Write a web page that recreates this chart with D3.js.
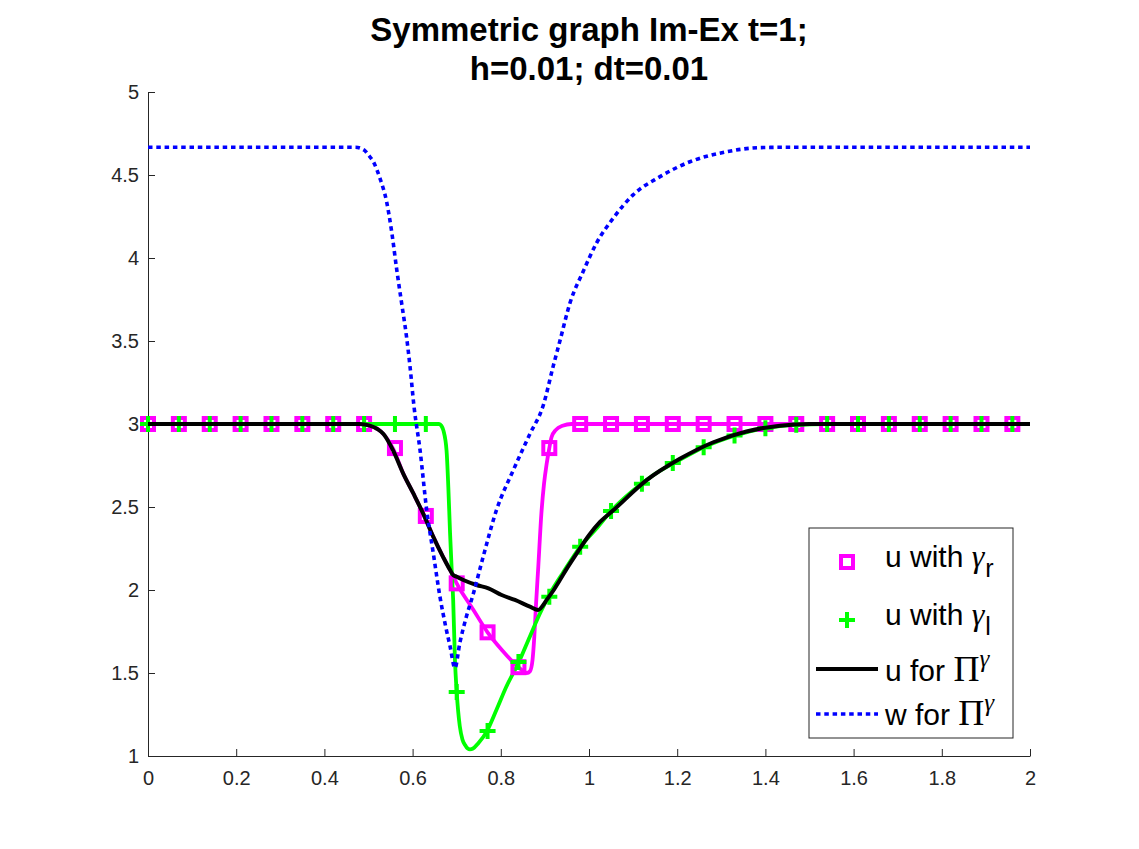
<!DOCTYPE html>
<html>
<head>
<meta charset="utf-8">
<script src="https://cdn.jsdelivr.net/npm/d3@7"></script>
<style>
  body { margin: 0; background: #fff; }
  svg { display: block; }
</style>
</head>
<body>
<div id="chart"></div>
<script>
// u with gamma_r (magenta line)
const urX = [0, 0.49, 0.50, 0.53, 0.556, 0.579, 0.602, 0.624, 0.647, 0.669, 0.689, 0.70, 0.738, 0.77, 0.802, 0.84, 0.859, 0.866, 0.872, 0.876, 0.880, 0.885, 0.892, 0.898, 0.904, 0.91, 0.915, 0.925, 0.94, 0.96, 2.0];
const urY = [3, 3, 2.995, 2.95, 2.85, 2.70, 2.58, 2.46, 2.32, 2.20, 2.10, 2.04, 1.88, 1.745, 1.64, 1.535, 1.50, 1.51, 1.58, 1.72, 1.92, 2.14, 2.46, 2.64, 2.76, 2.855, 2.92, 2.965, 2.99, 3.0, 3.0];

// u with gamma_l (green line)
const ulX = [0, 0.66, 0.665, 0.67, 0.677, 0.681, 0.685, 0.689, 0.692, 0.696, 0.70, 0.707, 0.713, 0.719, 0.725, 0.730, 0.737, 0.749, 0.768, 0.790, 0.813, 0.84, 0.866, 0.889, 0.912, 0.94, 0.98, 1.02, 1.05, 1.10, 1.15, 1.2, 1.26, 1.33, 1.4, 1.47, 1.54, 2.0];
const ulY = [3, 3, 2.99, 2.96, 2.84, 2.62, 2.34, 2.10, 1.94, 1.58, 1.385, 1.18, 1.10, 1.066, 1.045, 1.04, 1.045, 1.077, 1.147, 1.277, 1.42, 1.56, 1.72, 1.86, 1.98, 2.10, 2.26, 2.38, 2.476, 2.60, 2.70, 2.775, 2.86, 2.93, 2.975, 2.995, 3.0, 3.0];

// u for Pi^gamma (black line)
const upX = [0, 0.48, 0.503, 0.52, 0.534, 0.556, 0.579, 0.602, 0.624, 0.647, 0.669, 0.685, 0.692, 0.70, 0.715, 0.745, 0.772, 0.802, 0.832, 0.866, 0.885, 0.895, 0.904, 0.92, 0.934, 0.95, 0.972, 1.0, 1.025, 1.055, 1.13, 1.206, 1.282, 1.357, 1.433, 1.5, 2.0];
const upY = [3, 3, 2.99, 2.97, 2.94, 2.84, 2.70, 2.58, 2.46, 2.32, 2.20, 2.12, 2.09, 2.08, 2.06, 2.03, 2.01, 1.97, 1.94, 1.90, 1.88, 1.905, 1.94, 2.0, 2.06, 2.13, 2.22, 2.33, 2.41, 2.48, 2.66, 2.79, 2.89, 2.955, 2.99, 3.0, 3.0];

// w for Pi^gamma (blue dotted)
const wpX = [0, 0.47, 0.49, 0.50, 0.511, 0.526, 0.541, 0.553, 0.564, 0.575, 0.586, 0.594, 0.603, 0.617, 0.632, 0.647, 0.662, 0.675, 0.685, 0.696, 0.707, 0.722, 0.738, 0.76, 0.79, 0.828, 0.866, 0.896, 0.919, 0.934, 0.957, 0.987, 1.017, 1.055, 1.10, 1.161, 1.229, 1.312, 1.388, 1.45, 2.0];
const wpY = [4.667, 4.667, 4.65, 4.62, 4.58, 4.48, 4.34, 4.15, 3.93, 3.73, 3.53, 3.35, 3.11, 2.84, 2.48, 2.22, 1.96, 1.78, 1.66, 1.53, 1.68, 1.84, 1.98, 2.20, 2.48, 2.72, 2.94, 3.11, 3.35, 3.50, 3.73, 3.92, 4.09, 4.24, 4.38, 4.49, 4.58, 4.64, 4.665, 4.667, 4.667];

// marker positions and values
const markX = [0, 0.07, 0.14, 0.21, 0.28, 0.35, 0.42, 0.49, 0.56, 0.63, 0.70, 0.77, 0.84, 0.91, 0.98, 1.05, 1.12, 1.19, 1.26, 1.33, 1.40, 1.47, 1.54, 1.61, 1.68, 1.75, 1.82, 1.89, 1.96];
const urMark = [3, 3, 3, 3, 3, 3, 3, 3, 2.855, 2.446, 2.04, 1.745, 1.535, 2.855, 3, 3, 3, 3, 3, 3, 3, 3, 3, 3, 3, 3, 3, 3, 3];
const ulMark = [3, 3, 3, 3, 3, 3, 3, 3, 3, 3, 1.385, 1.15, 1.566, 1.96, 2.26, 2.476, 2.64, 2.765, 2.86, 2.93, 2.975, 2.995, 3, 3, 3, 3, 3, 3, 3];

const xTicks = [0, 0.2, 0.4, 0.6, 0.8, 1, 1.2, 1.4, 1.6, 1.8, 2];
const xTickLabels = ["0", "0.2", "0.4", "0.6", "0.8", "1", "1.2", "1.4", "1.6", "1.8", "2"];
const yTicks = [1, 1.5, 2, 2.5, 3, 3.5, 4, 4.5, 5];
const yTickLabels = ["1", "1.5", "2", "2.5", "3", "3.5", "4", "4.5", "5"];

const W = 1139, H = 849;
const axisColor = "#262626";
const sans = "'Liberation Sans', Arial, sans-serif";
const serif = "'Liberation Serif', 'Times New Roman', serif";

const svg = d3.select("#chart").append("svg")
    .attr("width", W)
    .attr("height", H);

svg.append("rect").attr("width", W).attr("height", H).attr("fill", "#fff");

const x = d3.scaleLinear().domain([0, 2]).range([148, 1030]);
const y = d3.scaleLinear().domain([1, 5]).range([756, 92]);

// axes (box off, ticks pointing in)
const xAxis = svg.append("g")
    .attr("transform", `translate(0,${y(1)})`)
    .call(d3.axisBottom(x)
        .tickValues(xTicks)
        .tickFormat((d, i) => xTickLabels[i])
        .tickSizeInner(-7)
        .tickSizeOuter(0)
        .tickPadding(15));
const yAxis = svg.append("g")
    .attr("transform", `translate(${x(0)},0)`)
    .call(d3.axisLeft(y)
        .tickValues(yTicks)
        .tickFormat((d, i) => yTickLabels[i])
        .tickSizeInner(-7)
        .tickSizeOuter(0)
        .tickPadding(9));

[xAxis, yAxis].forEach(g => {
    g.select(".domain").attr("stroke", axisColor).attr("stroke-width", 1);
    g.selectAll(".tick line").attr("stroke", axisColor).attr("stroke-width", 1);
    g.selectAll(".tick text")
        .attr("fill", axisColor)
        .style("font-family", sans)
        .style("font-size", "20px");
});

const zip = (xs, ys) => xs.map((v, i) => [v, ys[i]]);
const line = d3.line()
    .x(d => x(d[0]))
    .y(d => y(d[1]))
    .curve(d3.curveMonotoneX);

const plot = svg.append("g");

// magenta and green lines
plot.append("path")
    .datum(zip(urX, urY))
    .attr("d", line)
    .attr("fill", "none")
    .attr("stroke", "#ff00ff")
    .attr("stroke-width", 3.8);

plot.append("path")
    .datum(zip(ulX, ulY))
    .attr("d", line)
    .attr("fill", "none")
    .attr("stroke", "#00ff00")
    .attr("stroke-width", 3.8);

// markers
const sq = 12;
plot.selectAll(".sq")
    .data(zip(markX, urMark))
    .enter()
    .append("rect")
    .attr("class", "sq")
    .attr("x", d => x(d[0]) - sq / 2)
    .attr("y", d => y(d[1]) - sq / 2)
    .attr("width", sq)
    .attr("height", sq)
    .attr("fill", "none")
    .attr("stroke", "#ff00ff")
    .attr("stroke-width", 4);

const plus = "M-8,0H8M0,-8V8";
plot.selectAll(".pl")
    .data(zip(markX, ulMark))
    .enter()
    .append("path")
    .attr("class", "pl")
    .attr("d", plus)
    .attr("transform", d => `translate(${x(d[0])},${y(d[1])})`)
    .attr("fill", "none")
    .attr("stroke", "#00ff00")
    .attr("stroke-width", 4);

// black and blue dotted
plot.append("path")
    .datum(zip(upX, upY))
    .attr("d", line)
    .attr("fill", "none")
    .attr("stroke", "#000")
    .attr("stroke-width", 4);

plot.append("path")
    .datum(zip(wpX, wpY))
    .attr("d", line)
    .attr("fill", "none")
    .attr("stroke", "#0000ff")
    .attr("stroke-width", 3.6)
    .attr("stroke-dasharray", "4.5,3.8");

// title
const title = svg.append("text")
    .attr("text-anchor", "middle")
    .attr("fill", "#000")
    .style("font-family", sans)
    .style("font-size", "33px")
    .style("font-weight", "bold");
title.append("tspan").attr("x", 589).attr("y", 41).text("Symmetric graph Im-Ex t=1;");
title.append("tspan").attr("x", 589).attr("y", 80).text("h=0.01; dt=0.01");

// legend
const lg = svg.append("g");
lg.append("rect")
    .attr("x", 809).attr("y", 528)
    .attr("width", 204).attr("height", 210)
    .attr("fill", "#fff")
    .attr("stroke", axisColor)
    .attr("stroke-width", 1);

lg.append("rect")
    .attr("x", 847 - sq / 2).attr("y", 562 - sq / 2)
    .attr("width", sq).attr("height", sq)
    .attr("fill", "none").attr("stroke", "#ff00ff").attr("stroke-width", 4);
lg.append("path")
    .attr("d", plus)
    .attr("transform", "translate(847,620)")
    .attr("stroke", "#00ff00").attr("stroke-width", 4);
lg.append("line")
    .attr("x1", 816).attr("x2", 878).attr("y1", 669).attr("y2", 669)
    .attr("stroke", "#000").attr("stroke-width", 4);
lg.append("line")
    .attr("x1", 816).attr("x2", 878).attr("y1", 714).attr("y2", 714)
    .attr("stroke", "#0000ff").attr("stroke-width", 3.6)
    .attr("stroke-dasharray", "4.5,3.8");

function legendText(yy, word, greek, script, sub) {
    const t = lg.append("text")
        .attr("x", 885).attr("y", yy)
        .attr("fill", "#000")
        .style("font-family", sans)
        .style("font-size", "30px");
    t.append("tspan").text(word + "\u00a0");
    if (sub) {
        t.append("tspan").style("font-family", serif).style("font-style", "italic")
            .style("font-size", "32px").text(greek);
        t.append("tspan").attr("dx", 1).attr("dy", 10).style("font-size", "25px").text(script);
    } else {
        t.append("tspan").style("font-family", serif).style("font-size", "36px").text(greek);
        t.append("tspan").attr("dy", -14).style("font-family", serif).style("font-style", "italic")
            .style("font-size", "25px").text(script);
    }
}
legendText(567, "u with", "\u03b3", "r", true);
legendText(625, "u with", "\u03b3", "l", true);
legendText(681, "u for", "\u03a0", "\u03b3", false);
legendText(725, "w for", "\u03a0", "\u03b3", false);
</script>
</body>
</html>
